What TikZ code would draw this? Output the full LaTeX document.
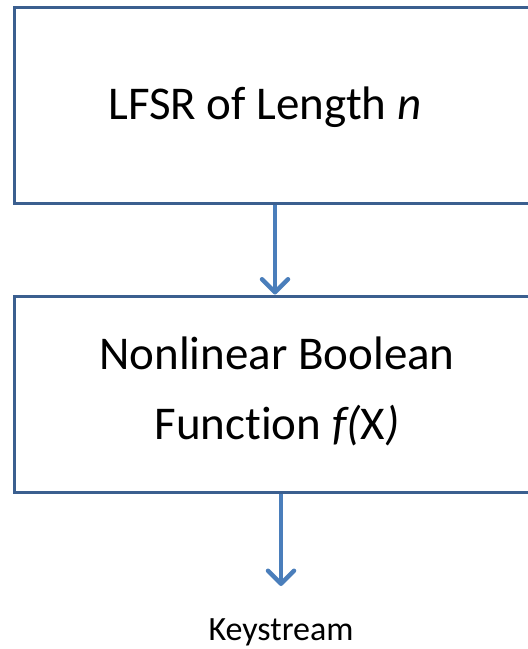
\documentclass[tikz,border=0pt]{standalone}
\usepackage{fontspec}
\setmainfont[Ligatures={NoCommon,NoDiscretionary,NoContextual}]{Carlito}
\usetikzlibrary{arrows.meta}
\definecolor{boxline}{HTML}{3B5F8F}
\definecolor{arrowc}{HTML}{4A7EBB}
\tikzset{
  blk/.style={draw=boxline, line width=3pt, minimum width=526pt, minimum height=196pt, inner sep=0pt, anchor=center},
  lbl/.style={font=\fontsize{47}{70}\selectfont, text=black, inner sep=0pt, align=center},
  arr/.style={draw=arrowc, line width=4.5pt, -{Straight Barb[length=13pt, width=26pt, line cap=round, line join=round]}},
}
\begin{document}
\begin{tikzpicture}[x=1pt, y=-1pt]
  \useasboundingbox (0,0) rectangle (528,649);
  \clip (0,0) rectangle (528,649);
  \node[blk] (box1) at (277,105) {};
  \node[blk] (box2) at (277,394) {};
  \node[lbl] (t1) at (265,107) {LFSR of Length \textit{n}};
  \node[lbl] (t2) at (277,391) {Nonlinear Boolean\\Function \textit{f(}X\textit{)}};
  \coordinate (c1) at (275,0);
  \coordinate (c2) at (281,0);
  \coordinate (end2) at (281,586);
  \node[font=\fontsize{34}{40}\selectfont, inner sep=0pt] (ks) at (281,632) {Keystream};
  \draw[arr] (box1.south -| c1) -- (box2.north -| c1);
  \draw[arr] (box2.south -| c2) -- (end2);
\end{tikzpicture}
\end{document}
